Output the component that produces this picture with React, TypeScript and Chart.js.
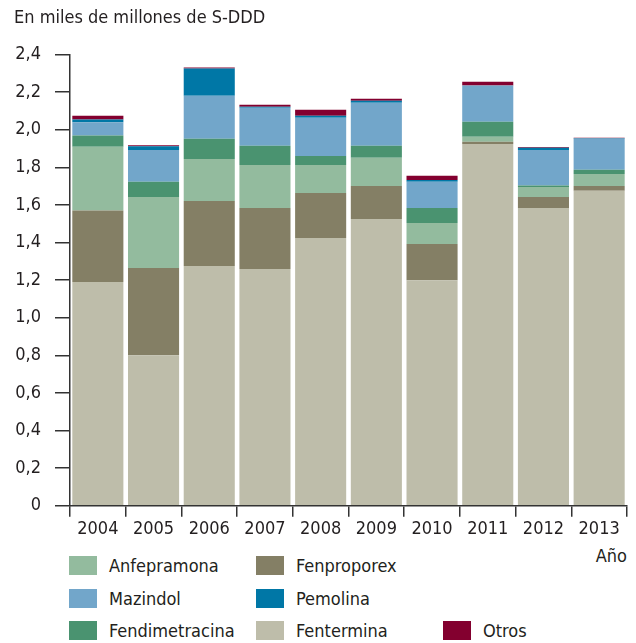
import React, { useEffect, useRef } from "react";
import { Chart, registerables } from "chart.js";

Chart.register(...registerables);

const years = ["2004", "2005", "2006", "2007", "2008", "2009", "2010", "2011", "2012", "2013"];
const yTicks = [0, 0.2, 0.4, 0.6, 0.8, 1.0, 1.2, 1.4, 1.6, 1.8, 2.0, 2.2, 2.4];

const fentermina = [1.19, 0.8, 1.275, 1.259, 1.424, 1.525, 1.2, 1.925, 1.584, 1.675];
const fenproporex = [0.38, 0.464, 0.346, 0.325, 0.24, 0.176, 0.192, 0.011, 0.059, 0.026];
const anfepramona = [0.34, 0.379, 0.224, 0.229, 0.149, 0.15, 0.112, 0.027, 0.053, 0.064];
const fendimetracina = [0.06, 0.08, 0.107, 0.102, 0.048, 0.064, 0.08, 0.08, 0.007, 0.022];
const mazindol = [0.07, 0.17, 0.229, 0.202, 0.203, 0.229, 0.139, 0.192, 0.19, 0.165];
const pemolina = [0.015, 0.02, 0.145, 0.006, 0.011, 0.011, 0.01, 0, 0.011, 0.003];
const otros = [0.02, 0.005, 0.005, 0.01, 0.032, 0.01, 0.022, 0.021, 0.004, 0.002];

const colors = {
  Fentermina: "#bebdaa",
  Fenproporex: "#847f65",
  Anfepramona: "#93bb9e",
  Fendimetracina: "#4a9370",
  Mazindol: "#72a6ca",
  Pemolina: "#0077a6",
  Otros: "#83002f",
};

const FONT = "'DejaVu Sans Condensed', 'Liberation Sans', sans-serif";
const TEXT = "#231f20";
const FS = 18;

const legendItems = [
  { label: "Anfepramona", color: colors.Anfepramona, x: 69, y: 556 },
  { label: "Fenproporex", color: colors.Fenproporex, x: 256, y: 556 },
  { label: "Mazindol", color: colors.Mazindol, x: 69, y: 589 },
  { label: "Pemolina", color: colors.Pemolina, x: 256, y: 589 },
  { label: "Fendimetracina", color: colors.Fendimetracina, x: 69, y: 621 },
  { label: "Fentermina", color: colors.Fentermina, x: 256, y: 621 },
  { label: "Otros", color: colors.Otros, x: 443, y: 621 },
];

export default function App() {
  const ref = useRef<HTMLCanvasElement | null>(null);

  useEffect(() => {
    if (!ref.current) return;
    const mk = (label: string, data: number[], color: string) => ({
      label,
      data,
      backgroundColor: color,
      borderWidth: 0,
      barPercentage: 0.917,
      categoryPercentage: 1,
      stack: "s",
    });
    const chart = new Chart(ref.current, {
      type: "bar",
      data: {
        labels: years,
        datasets: [
          mk("Fentermina", fentermina, colors.Fentermina),
          mk("Fenproporex", fenproporex, colors.Fenproporex),
          mk("Anfepramona", anfepramona, colors.Anfepramona),
          mk("Fendimetracina", fendimetracina, colors.Fendimetracina),
          mk("Mazindol", mazindol, colors.Mazindol),
          mk("Pemolina", pemolina, colors.Pemolina),
          mk("Otros", otros, colors.Otros),
        ],
      },
      options: {
        animation: false,
        responsive: false,
        maintainAspectRatio: false,
        layout: { padding: { left: 0, right: 9, top: 54.6, bottom: 0 } },
        plugins: {
          legend: { display: false },
          tooltip: { enabled: false },
          title: { display: false },
        },
        scales: {
          x: {
            stacked: true,
            offset: true,
            grid: {
              offset: true,
              drawOnChartArea: false,
              drawTicks: true,
              tickLength: 11,
              color: "#333",
              lineWidth: 1.5,
            },
            border: { display: true, color: "#333", width: 1.5 },
            ticks: {
              color: TEXT,
              font: { family: FONT, size: FS },
              padding: 2,
              maxRotation: 0,
            },
            afterFit: (s: any) => {
              s.height = 39.3;
            },
          },
          y: {
            stacked: true,
            min: 0,
            max: 2.4,
            afterBuildTicks: (s: any) => {
              s.ticks = yTicks.map((v) => ({ value: v }));
            },
            grid: {
              drawOnChartArea: false,
              drawTicks: true,
              tickLength: 15,
              color: "#333",
              lineWidth: 1.5,
            },
            border: { display: true, color: "#333", width: 1.5 },
            ticks: {
              color: TEXT,
              font: { family: FONT, size: FS },
              padding: 14,
              callback: (v: any) => (Number(v) === 0 ? "0" : Number(v).toFixed(1).replace(".", ",")),
            },
            afterFit: (s: any) => {
              s.width = 70;
            },
          },
        },
      },
    });
    return () => chart.destroy();
  }, []);

  return (
    <div style={{ position: "fixed", left: 0, top: 0, width: 636, height: 643, background: "#fff", fontFamily: FONT, color: TEXT }}>
      <canvas ref={ref} width={636} height={545} style={{ position: "absolute", left: 0, top: 0, width: 636, height: 545 }} />
      <div style={{ position: "absolute", left: 14, top: 8, fontSize: FS, lineHeight: FS + "px", whiteSpace: "nowrap" }}>
        En miles de millones de S-DDD
      </div>
      <div style={{ position: "absolute", right: 9, top: 546.8, fontSize: FS, lineHeight: FS + "px", whiteSpace: "nowrap" }}>
        Año
      </div>
      {legendItems.map((it) => (
        <React.Fragment key={it.label}>
          <div style={{ position: "absolute", left: it.x, top: it.y, width: 28, height: 19, background: it.color }} />
          <div style={{ position: "absolute", left: it.x + 40, top: it.y + 0.8, fontSize: FS, lineHeight: FS + "px", whiteSpace: "nowrap" }}>
            {it.label}
          </div>
        </React.Fragment>
      ))}
    </div>
  );
}
